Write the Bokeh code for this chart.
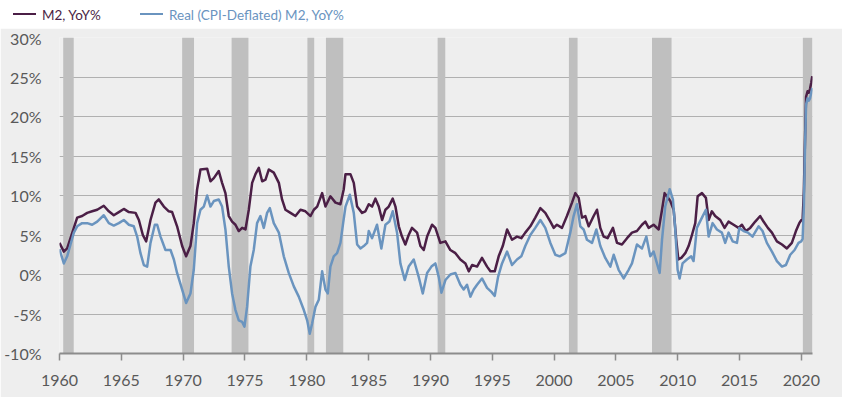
from bokeh.plotting import figure
from bokeh.layouts import column
from bokeh.models import Range1d, FixedTicker, PrintfTickFormatter, Div
from bokeh.embed import file_html
from bokeh.resources import INLINE

# ---------------- data ----------------
m2_year = [1960.00, 1960.35, 1960.62, 1960.89, 1961.16, 1961.43, 1961.83, 1962.24, 1962.64, 1963.05,
           1963.58, 1963.99, 1964.39, 1964.80, 1965.20, 1965.61, 1966.15, 1966.42, 1966.74, 1967.01,
           1967.36, 1967.76, 1968.03, 1968.44, 1968.84, 1969.11, 1969.51, 1969.92, 1970.24, 1970.59,
           1970.86, 1971.13, 1971.40, 1971.94, 1972.21, 1972.48, 1972.88, 1973.15, 1973.42, 1973.69,
           1973.96, 1974.23, 1974.50, 1974.77, 1975.04, 1975.31, 1975.58, 1975.85, 1976.12, 1976.39,
           1976.66, 1976.93, 1977.33, 1977.74, 1978.00, 1978.27, 1978.68, 1979.08, 1979.49, 1979.89,
           1980.30, 1980.57, 1980.84, 1981.24, 1981.51, 1981.91, 1982.32, 1982.72, 1982.99, 1983.13,
           1983.53, 1983.80, 1984.07, 1984.47, 1984.74, 1985.01, 1985.28, 1985.55, 1985.82, 1986.09,
           1986.36, 1986.63, 1986.95, 1987.17, 1987.44, 1987.70, 1987.97, 1988.24, 1988.51, 1988.92,
           1989.19, 1989.46, 1989.73, 1990.13, 1990.40, 1990.80, 1991.21, 1991.61, 1992.02, 1992.42,
           1992.83, 1993.10, 1993.37, 1993.77, 1994.17, 1994.58, 1994.85, 1995.20, 1995.52, 1995.85,
           1996.20, 1996.60, 1997.00, 1997.35, 1997.67, 1998.08, 1998.48, 1998.89, 1999.29, 1999.70,
           1999.97, 2000.23, 2000.64, 2001.04, 2001.45, 2001.72, 2001.99, 2002.26, 2002.53, 2002.80,
           2003.20, 2003.47, 2003.74, 2004.01, 2004.33, 2004.76, 2005.09, 2005.49, 2005.90, 2006.30,
           2006.70, 2007.11, 2007.38, 2007.65, 2008.05, 2008.46, 2008.73, 2008.94, 2009.21, 2009.40,
           2009.67, 2009.88, 2010.05, 2010.29, 2010.61, 2010.88, 2011.15, 2011.42, 2011.61, 2011.96,
           2012.28, 2012.50, 2012.76, 2013.03, 2013.44, 2013.79, 2014.11, 2014.52, 2014.92, 2015.19,
           2015.51, 2015.86, 2016.27, 2016.67, 2016.94, 2017.29, 2017.62, 2018.02, 2018.43, 2018.83,
           2019.23, 2019.56, 2019.83, 2020.00, 2020.10, 2020.20, 2020.30, 2020.38, 2020.50, 2020.60,
           2020.70, 2020.80, 2020.88]
m2_yoy = [4.0, 2.9, 3.3, 4.6, 5.9, 7.2, 7.4, 7.8, 8.0, 8.2,
          8.7, 8.0, 7.5, 7.9, 8.3, 7.9, 7.8, 6.9, 5.0, 4.2,
          6.9, 9.1, 9.5, 8.6, 8.0, 7.9, 6.1, 3.6, 2.3, 3.6,
          6.5, 10.8, 13.3, 13.4, 11.8, 12.2, 13.1, 11.6, 10.3, 7.4,
          6.7, 6.3, 5.5, 5.9, 5.7, 8.2, 11.6, 12.7, 13.5, 11.8,
          12.0, 13.3, 12.9, 11.6, 9.5, 8.2, 7.8, 7.4, 8.2, 8.0,
          7.4, 8.2, 8.6, 10.3, 8.6, 9.9, 9.1, 8.9, 10.8, 12.7,
          12.7, 11.6, 8.6, 7.8, 8.0, 8.9, 8.6, 9.6, 8.6, 6.9,
          8.2, 8.6, 9.6, 8.6, 6.1, 4.8, 3.8, 5.0, 5.9, 5.3,
          3.6, 3.1, 4.8, 6.3, 5.9, 4.0, 4.2, 3.1, 2.7, 1.9,
          1.4, 0.4, 1.2, 1.0, 2.1, 1.0, 0.4, 0.4, 2.3, 3.6,
          5.7, 4.4, 4.8, 4.6, 5.3, 6.1, 7.2, 8.4, 7.8, 6.7,
          5.9, 6.3, 5.9, 7.4, 9.1, 10.3, 9.7, 7.2, 7.4, 6.1,
          7.4, 8.2, 5.9, 4.8, 4.6, 5.9, 4.0, 3.8, 4.6, 5.3,
          5.5, 6.3, 6.7, 5.9, 6.3, 5.7, 8.2, 10.3, 9.7, 9.3,
          8.2, 4.4, 1.9, 2.1, 2.7, 3.6, 5.0, 6.5, 9.9, 10.3,
          9.7, 6.9, 8.0, 7.4, 6.9, 5.9, 6.7, 6.3, 5.9, 6.3,
          5.5, 5.9, 6.7, 7.4, 6.7, 5.9, 5.3, 4.2, 3.8, 3.3,
          4.0, 5.5, 6.5, 6.9, 7.0, 10.5, 17.5, 22.5, 23.2, 23.0,
          23.5, 24.3, 25.1]

real_year = [1960.00, 1960.35, 1960.62, 1960.89, 1961.16, 1961.43, 1961.83, 1962.24, 1962.64, 1963.05,
             1963.58, 1963.99, 1964.39, 1964.80, 1965.20, 1965.61, 1966.01, 1966.28, 1966.55, 1966.82,
             1967.09, 1967.36, 1967.71, 1967.90, 1968.17, 1968.57, 1968.98, 1969.25, 1969.51, 1969.92,
             1970.24, 1970.59, 1970.86, 1971.13, 1971.40, 1971.67, 1971.94, 1972.21, 1972.48, 1972.88,
             1973.15, 1973.42, 1973.69, 1973.96, 1974.23, 1974.50, 1974.77, 1974.96, 1975.17, 1975.44,
             1975.71, 1975.98, 1976.25, 1976.52, 1976.79, 1977.01, 1977.33, 1977.74, 1978.14, 1978.54,
             1978.95, 1979.35, 1979.76, 1980.03, 1980.24, 1980.43, 1980.70, 1980.97, 1981.24, 1981.51,
             1981.70, 1981.91, 1982.18, 1982.45, 1982.72, 1982.94, 1983.13, 1983.48, 1983.80, 1984.07,
             1984.34, 1984.61, 1984.88, 1985.01, 1985.28, 1985.68, 1986.03, 1986.36, 1986.68, 1986.95,
             1987.30, 1987.57, 1987.92, 1988.24, 1988.65, 1989.05, 1989.38, 1989.73, 1990.08, 1990.40,
             1990.67, 1990.89, 1991.21, 1991.61, 1992.02, 1992.42, 1992.69, 1992.96, 1993.23, 1993.50,
             1993.77, 1994.17, 1994.58, 1994.93, 1995.20, 1995.47, 1995.79, 1996.20, 1996.60, 1997.00,
             1997.35, 1997.67, 1998.08, 1998.48, 1998.89, 1999.29, 1999.70, 2000.10, 2000.45, 2000.91,
             2001.31, 2001.58, 2001.85, 2002.12, 2002.39, 2002.66, 2003.07, 2003.42, 2003.74, 2004.14,
             2004.55, 2004.82, 2005.22, 2005.63, 2006.03, 2006.30, 2006.70, 2007.11, 2007.46, 2007.78,
             2008.05, 2008.32, 2008.54, 2008.73, 2008.99, 2009.35, 2009.61, 2009.80, 2009.99, 2010.15,
             2010.39, 2010.74, 2011.09, 2011.28, 2011.55, 2011.96, 2012.28, 2012.50, 2012.82, 2013.17,
             2013.57, 2013.84, 2014.11, 2014.44, 2014.79, 2014.98, 2015.33, 2015.68, 2016.05, 2016.54,
             2016.86, 2017.21, 2017.62, 2018.02, 2018.43, 2018.75, 2019.10, 2019.45, 2019.77, 2019.99,
             2020.10, 2020.20, 2020.30, 2020.38, 2020.50, 2020.60, 2020.70, 2020.80, 2020.88]
real_yoy = [3.2, 1.4, 2.3, 3.8, 5.3, 6.1, 6.5, 6.5, 6.3, 6.7,
            7.5, 6.5, 6.2, 6.5, 6.9, 6.3, 6.1, 4.8, 2.7, 1.2,
            1.0, 4.0, 6.3, 6.3, 4.8, 3.1, 3.1, 1.9, 0.2, -1.9,
            -3.6, -2.4, 0.6, 6.5, 8.2, 8.6, 10.0, 8.6, 9.3, 9.5,
            8.6, 5.7, 1.0, -2.4, -4.5, -5.8, -6.0, -6.6, -4.1, 1.0,
            3.1, 6.5, 7.4, 5.9, 7.8, 8.4, 6.5, 5.3, 2.3, 0.2,
            -1.5, -2.8, -4.5, -5.8, -7.5, -6.2, -4.1, -3.2, 0.4, -1.9,
            -2.4, 1.0, 2.3, 2.7, 4.0, 6.5, 8.6, 10.1, 7.8, 3.8,
            3.3, 3.6, 4.0, 5.5, 4.6, 6.3, 3.3, 6.3, 6.7, 8.0,
            5.3, 1.4, -0.7, 1.0, 1.9, -0.3, -2.4, 0.2, 1.0, 1.4,
            -0.3, -2.3, -0.7, 0.0, 0.2, -1.3, -1.9, -1.3, -2.8, -1.9,
            -1.3, -0.5, -1.7, -2.2, -2.7, -0.3, 1.4, 2.9, 1.2, 1.9,
            2.3, 3.6, 5.0, 5.9, 6.9, 5.9, 4.0, 2.5, 2.3, 2.7,
            5.3, 7.4, 8.9, 6.1, 5.7, 4.4, 4.0, 5.7, 3.6, 2.1,
            1.0, 2.5, 0.6, -0.5, 0.6, 1.4, 3.8, 3.3, 4.8, 2.3,
            2.9, 1.4, 0.2, 4.4, 8.6, 10.8, 9.5, 5.7, 0.6, -0.5,
            1.4, 1.9, 2.3, 1.7, 5.9, 7.2, 8.2, 4.8, 6.5, 5.7,
            5.3, 4.0, 5.3, 4.2, 4.0, 5.9, 5.5, 5.3, 4.8, 6.1,
            5.5, 4.0, 2.9, 1.7, 1.0, 1.2, 2.5, 3.1, 4.0, 4.2,
            4.5, 8.5, 16.5, 21.5, 22.3, 22.0, 22.3, 23.0, 23.6]

recession_start = [1960.30, 1969.92, 1973.92, 1980.05, 1981.55, 1990.58, 2001.20, 2007.92, 2020.12]
recession_end = [1961.15, 1970.88, 1975.28, 1980.60, 1982.95, 1991.20, 2001.90, 2009.50, 2020.90]

x_ticks = [1960, 1965, 1970, 1975, 1980, 1985, 1990, 1995, 2000, 2005, 2010, 2015, 2020]
y_ticks = [-10, -5, 0, 5, 10, 15, 20, 25, 30]

m2_label = "M2, YoY%"
real_label = "Real (CPI-Deflated) M2, YoY%"

# ---------------- styling ----------------
BG = "#eeeeee"
M2_COLOR = "#4b1f46"
REAL_COLOR = "#6a94bf"
REC_COLOR = "#bfbfbf"
TXT = "#595959"
FONT = "Lato"

# ---------- legend strip (HTML, so each label takes its series colour) ----------
def legend_entry(label, color, x_line, x_text):
    return (f'<span style="position:absolute;left:{x_line}px;top:12.8px;width:23px;height:0;'
            f'border-top:2.5px solid {color};"></span>'
            f'<span style="position:absolute;left:{x_text}px;top:4.5px;line-height:20px;'
            f'white-space:nowrap;color:{color};">{label}</span>')


legend_html = (f'<div style="position:relative;width:842px;height:28px;font-family:{FONT};'
               f'font-size:13.5px;">'
               + legend_entry(m2_label, M2_COLOR, 13, 42)
               + legend_entry(real_label, REAL_COLOR, 140, 169)
               + '</div>')
legend_div = Div(text=legend_html, width=842, height=28, margin=0)

# ---------- main chart ----------
p = figure(width=842, height=369,
           x_range=Range1d(1960, 2020.9), y_range=Range1d(-10, 30),
           output_backend="svg", toolbar_location=None,
           min_border_left=59, min_border_right=30, min_border_top=9, min_border_bottom=44,
           background_fill_color=BG, border_fill_color=BG)
p.outline_line_color = None

# recession bars
p.quad(left=recession_start, right=recession_end, bottom=-10, top=30,
       fill_color=REC_COLOR, line_color=None)

p.line(m2_year, m2_yoy, line_color=M2_COLOR, line_width=2.5, line_join="round")
p.line(real_year, real_yoy, line_color=REAL_COLOR, line_width=2.5, line_join="round")

# axes
p.xaxis.ticker = FixedTicker(ticks=x_ticks)
p.xaxis.axis_line_color = "#8c8c8c"
p.xaxis.axis_line_width = 2
p.xaxis.major_tick_line_color = "#8c8c8c"
p.xaxis.major_tick_line_width = 1.5
p.xaxis.major_tick_in = 0
p.xaxis.major_tick_out = 7
p.xaxis.minor_tick_line_color = None
p.xaxis.major_label_standoff = 14
p.xaxis.major_label_text_font = FONT
p.xaxis.major_label_text_font_size = "16px"
p.xaxis.major_label_text_color = TXT

p.yaxis.ticker = FixedTicker(ticks=y_ticks)
p.yaxis.formatter = PrintfTickFormatter(format="%d%%")
p.yaxis.axis_line_color = None
p.yaxis.major_tick_line_color = None
p.yaxis.minor_tick_line_color = None
p.yaxis.major_label_standoff = 12
p.yaxis.major_label_text_font = FONT
p.yaxis.major_label_text_font_size = "16px"
p.yaxis.major_label_text_color = TXT

p.xgrid.visible = False
p.ygrid.ticker = FixedTicker(ticks=y_ticks)
p.ygrid.grid_line_color = "#b0b0b0"
p.ygrid.grid_line_width = 1

layout = column(legend_div, p, spacing=0)

html = file_html(layout, INLINE)
html = html.replace("<body>", '<body style="background:#eeeeee;">', 1)
open("out.html", "w").write(html)
